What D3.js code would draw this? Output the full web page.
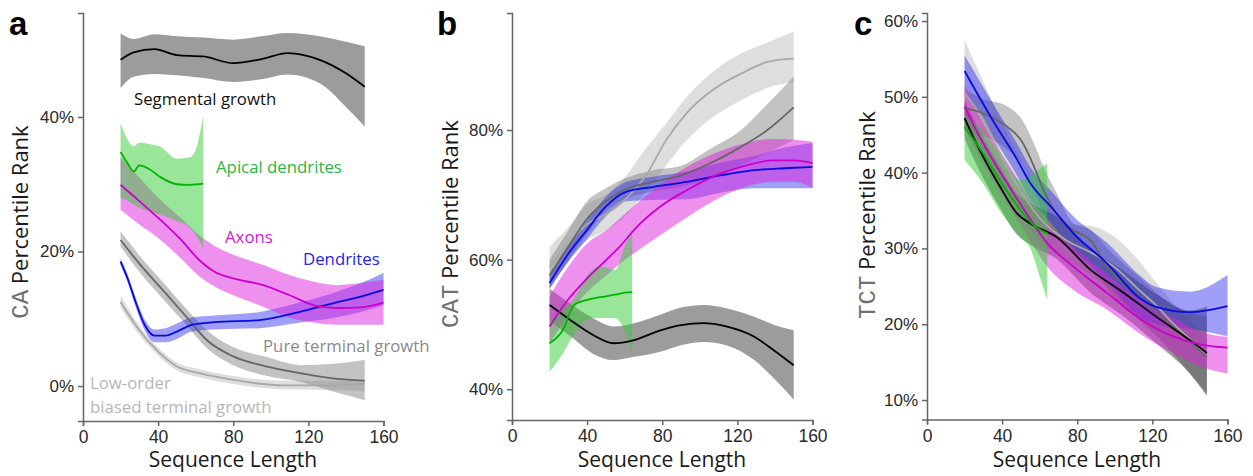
<!DOCTYPE html>
<html>
  <head>
    <meta charset="utf-8" />
    <script src="https://d3js.org/d3.v7.min.js"></script>
    <title>Percentile Rank vs Sequence Length</title>
    <style>
        body { margin: 0; background: #fff; }
        svg { font-family: "Open Sans", sans-serif; }
        .tick text { font-size: 17px; fill: #2a2a2a; }
        .domain, .tick line { stroke: #666; stroke-width: 1.5; }
    </style>
  </head>
  <body>

    <svg id="chart" width="1253" height="476"></svg>

    <script>
    // rows are [sequence length, mean %, lower band %, upper band %]
    var xTicks = [0, 40, 80, 120, 160];

    // panel a : CA
    var aTicks = [0, 20, 40];
    var aSegmental = [[20,48.5,44.3,52.4],[27,49.6,46.0,51.6],[38,50.1,46.4,52.3],[50,49.2,46.2,52.0],[64,49.0,45.8,51.8],[80,48.0,45.2,51.5],[95,48.6,45.6,52.0],[109,49.5,46.3,52.5],[126,48.5,45.0,52.0],[140,46.5,41.5,51.2],[150,44.5,38.6,50.5]];
    var aApical = [[20,34.8,28.0,39.1],[24,33.0,27.5,36.5],[27,31.9,27.0,35.6],[30,32.8,26.5,36.2],[35,32.3,26.0,36.0],[41,31.1,25.5,35.6],[50,30.0,24.5,33.8],[57,29.9,23.5,34.0],[61,30.0,22.0,36.0],[64,30.1,20.5,40.2]];
    var aAxons = [[20,29.9,26.2,34.0],[30,27.5,24.0,31.0],[40,25.0,22.0,28.0],[52,21.8,19.0,25.0],[62,18.7,16.3,22.4],[70,17.0,14.8,20.8],[80,16.0,13.5,19.5],[96,15.0,11.8,18.0],[110,13.5,10.2,16.5],[123,12.0,9.4,15.5],[135,11.6,9.1,15.0],[148,11.7,9.1,15.3],[160,12.4,9.1,15.8]];
    var aDendrites = [[20,18.5,18.0,19.0],[24,15.8,15.2,16.4],[28,12.5,11.8,13.2],[33,9.0,8.2,9.8],[38,7.5,6.5,8.4],[44,7.5,6.5,8.6],[50,8.1,7.0,9.3],[58,9.1,8.1,10.2],[70,9.5,8.4,10.5],[94,9.8,8.6,11.0],[115,11.0,9.4,12.4],[133,12.3,10.1,13.8],[148,13.3,11.0,15.3],[160,14.3,12.0,16.8]];
    var aPureTerminal = [[20,21.7,20.7,23.0],[30,18.2,17.0,19.4],[44,13.8,12.5,15.0],[55,10.3,9.1,11.5],[66,6.8,5.6,8.3],[80,4.4,3.1,5.8],[98,2.9,1.5,4.3],[116,1.9,0.6,3.1],[134,1.1,-0.9,3.3],[150,0.8,-2.1,3.9]];
    var aLowOrder = [[20,12.5,11.6,13.5],[30,8.3,7.6,9.0],[39,5.4,4.8,6.0],[50,2.9,2.3,3.5],[62,1.9,1.3,2.5],[80,0.9,0.3,1.5],[107,0.1,-0.5,0.8],[134,0.1,-0.6,0.8],[150,0.4,-0.8,0.9]];

    // panel b : CAT
    var bTicks = [40, 60, 80];
    var bSegmental = [[20,53.0,50.5,55.5],[31,50.7,48.2,53.2],[43,48.4,45.5,51.0],[54,47.1,44.5,49.7],[65,47.6,45.0,50.2],[79,49.1,45.8,51.5],[90,49.9,46.8,52.6],[102,50.2,47.3,53.0],[114,49.7,46.8,52.5],[129,48.1,44.5,51.2],[139,46.1,41.8,50.0],[150,43.7,38.4,49.1]];
    var bApical = [[20,47.1,42.7,50.5],[27,49.1,45.5,52.5],[33,53.0,48.5,54.0],[40,53.8,50.8,57.5],[47,54.2,51.0,59.0],[55,54.6,51.0,58.4],[60,54.9,49.0,62.0],[64,55.0,45.6,64.6]];
    var bAxons = [[20,49.7,47.0,54.3],[29,53.5,51.0,58.5],[40,57.1,55.0,62.5],[50,59.9,57.5,64.5],[58,62.2,59.5,66.5],[65,64.6,61.0,68.3],[79,68.2,63.8,71.5],[93,70.7,66.5,74.3],[107,72.8,69.0,76.3],[122,74.3,71.0,77.8],[139,75.3,72.0,78.6],[150,75.3,72.0,78.5],[160,74.9,71.0,78.2]];
    var bDendrites = [[20,56.4,55.5,57.5],[29,60.5,59.3,61.8],[40,64.6,63.2,66.0],[50,68.2,66.7,69.7],[61,70.5,69.0,72.0],[75,71.2,69.2,72.8],[93,72.0,69.3,73.6],[111,73.0,70.3,75.0],[129,73.8,71.0,76.0],[145,74.1,71.0,77.3],[160,74.3,71.0,78.0]];
    var bPureTerminal = [[20,57.6,55.5,60.0],[30,62.0,59.8,64.5],[40,66.3,64.0,69.0],[50,69.0,67.5,71.0],[60,70.8,69.3,72.5],[75,72.0,70.5,73.8],[90,73.0,71.2,74.5],[105,74.8,72.5,77.0],[122,77.4,74.6,80.0],[136,80.0,76.5,84.0],[150,83.5,78.4,88.2]];
    var bLowOrder = [[20,58.9,55.5,62.0],[30,62.5,60.0,65.0],[40,65.5,63.0,68.5],[50,67.0,64.5,70.0],[58,68.7,66.1,72.0],[72,73.3,70.8,77.4],[82,78.4,74.5,81.0],[93,82.6,78.4,85.1],[107,86.2,82.0,89.0],[122,88.7,84.6,91.8],[136,90.5,86.5,93.5],[150,91.0,87.4,95.2]];

    // panel c : TCT
    var cTicks = [10, 20, 30, 40, 50, 60];
    var cSegmental = [[20,47.2,44.5,49.5],[28,43.0,40.2,45.5],[39,38.1,35.3,40.8],[48,34.6,31.8,37.2],[55,33.3,30.5,36.0],[69,31.5,28.6,34.2],[87,27.2,24.2,30.0],[105,24.1,21.0,27.0],[122,21.0,17.5,24.0],[140,17.9,13.5,21.8],[149,16.2,10.7,22.3]];
    var cApical = [[20,46.0,41.7,47.5],[30,42.5,38.5,45.5],[40,38.5,34.5,42.0],[50,35.0,31.5,39.0],[55,33.5,30.0,39.5],[60,32.5,26.3,40.5],[64,32.0,23.2,41.2]];
    var cAxons = [[20,48.7,46.0,51.5],[27,45.2,42.6,47.8],[35,41.7,39.0,44.3],[44,38.1,35.4,40.8],[53,34.6,31.8,37.2],[64,30.7,27.6,33.3],[78,27.6,24.5,30.2],[96,24.1,21.9,26.6],[113,20.8,18.8,23.3],[131,18.4,16.2,20.9],[146,17.3,14.4,19.0],[160,16.9,13.5,18.3]];
    var cDendrites = [[20,53.4,51.0,55.5],[35,46.9,44.8,49.2],[48,41.7,39.6,43.8],[55,38.6,36.5,40.7],[66,35.5,33.4,37.6],[78,32.0,29.8,34.2],[96,28.0,25.5,30.7],[113,23.5,21.0,26.5],[122,22.3,20.0,24.9],[140,21.6,19.4,24.3],[160,22.4,18.4,26.5]];
    var cPureTerminal = [[20,48.5,45.5,51.0],[29,47.9,45.0,49.8],[43,46.0,43.0,48.7],[50,44.3,41.3,47.2],[57,40.8,37.8,43.8],[62,37.7,34.7,40.8],[69,34.6,31.6,37.3],[78,32.4,29.4,33.3],[87,31.1,28.0,32.5],[96,27.6,24.6,30.0],[113,23.6,20.6,26.2],[131,19.7,16.2,22.5],[149,15.7,10.5,21.0]];
    var cLowOrder = [[20,50.5,46.0,57.5],[30,47.0,43.0,52.0],[42,41.0,37.5,45.5],[60,34.0,31.0,37.5],[74,31.1,28.5,33.3],[87,29.5,26.5,33.0],[100,27.5,24.0,31.5],[113,24.5,20.5,28.3],[122,22.5,18.5,25.5],[131,20.1,16.0,22.8],[140,18.0,13.5,20.5],[149,15.7,11.0,18.0]];

    var svg = d3.select("#chart");

    // styles for each group (band fill, band opacity, line colour)
    var styles = {
        lowOrder:     { band: "#b5b5b5", op: 0.45, line: "#a8a8a8" },
        pureTerminal: { band: "#7a7a7a", op: 0.45, line: "#666666" },
        segmental:    { band: "#4a4a4a", op: 0.55, line: "#000000" },
        dendrites:    { band: "#2a2aee", op: 0.45, line: "#0a0ae0" },
        axons:        { band: "#dd22dd", op: 0.5,  line: "#cc00cc" },
        apical:       { band: "#33cc33", op: 0.5,  line: "#00b400" }
    };

    function drawPanel(cfg){
        var x = d3.scaleLinear().domain([0, 160]).range([cfg.x0, cfg.x0 + 300.5]);
        var y = d3.scaleLinear().domain(cfg.yDomain).range([cfg.yBottom, 13]);
        var g = svg.append("g");

        var area = d3.area()
            .x(function(d){ return x(d[0]); })
            .y0(function(d){ return y(d[2]); })
            .y1(function(d){ return y(d[3]); })
            .curve(d3.curveMonotoneX);
        var line = d3.line()
            .x(function(d){ return x(d[0]); })
            .y(function(d){ return y(d[1]); })
            .curve(d3.curveMonotoneX);

        g.selectAll("path.band").data(cfg.series).enter().append("path")
            .attr("class", "band")
            .attr("d", function(s){ return area(s.data); })
            .attr("fill", function(s){ return styles[s.key].band; })
            .attr("fill-opacity", function(s){ return styles[s.key].op; });

        g.selectAll("path.mean").data(cfg.series).enter().append("path")
            .attr("class", "mean")
            .attr("d", function(s){ return line(s.data); })
            .attr("fill", "none")
            .attr("stroke", function(s){ return styles[s.key].line; })
            .attr("stroke-width", 1.8);

        // axes
        g.append("g")
            .attr("transform", "translate(0," + cfg.yBottom + ")")
            .call(d3.axisBottom(x).tickValues(xTicks).tickSize(5).tickPadding(5))
            .call(function(a){ a.selectAll("text").style("font-size", "17.5px"); });
        g.append("g")
            .attr("transform", "translate(" + cfg.x0 + ",0)")
            .call(d3.axisLeft(y).tickValues(cfg.yTicks).tickSize(5).tickPadding(4)
                .tickFormat(function(d){ return d + "%"; }));
        g.selectAll(".domain").attr("fill", "none");

        // axis titles
        g.append("text")
            .attr("x", cfg.x0 + 150).attr("y", 467)
            .attr("text-anchor", "middle")
            .style("font-size", "21px").style("fill", "#1a1a1a")
            .text("Sequence Length");

        var yt = g.append("text")
            .attr("transform", "translate(" + cfg.titleX + "," + cfg.titleY + ") rotate(-90)")
            .attr("text-anchor", "middle")
            .style("font-size", "22px").style("fill", "#1a1a1a");
        yt.append("tspan")
            .style("font-family", "'Liberation Mono', 'DejaVu Sans Mono', monospace")
            .style("font-size", "24px")
            .style("fill", "#707070")
            .text(cfg.metric);
        yt.append("tspan").text(" Percentile Rank");

        svg.append("text")
            .attr("x", cfg.letterX).attr("y", 35)
            .style("font-family", "'Liberation Sans', Arial, sans-serif")
            .style("font-weight", "bold").style("font-size", "33px")
            .text(cfg.letter);

        return g;
    }

    var gA = drawPanel({
        x0: 83, yBottom: 421, yDomain: [-5.2, 55.46], yTicks: aTicks,
        metric: "CA", titleX: 28, titleY: 222, letter: "a", letterX: 9,
        series: [
            { key: "lowOrder", data: aLowOrder },
            { key: "pureTerminal", data: aPureTerminal },
            { key: "segmental", data: aSegmental },
            { key: "dendrites", data: aDendrites },
            { key: "axons", data: aAxons },
            { key: "apical", data: aApical }
        ]
    });

    drawPanel({
        x0: 512, yBottom: 420, yDomain: [35.26, 98.05], yTicks: bTicks,
        metric: "CAT", titleX: 458, titleY: 224, letter: "b", letterX: 437,
        series: [
            { key: "lowOrder", data: bLowOrder },
            { key: "pureTerminal", data: bPureTerminal },
            { key: "segmental", data: bSegmental },
            { key: "dendrites", data: bDendrites },
            { key: "axons", data: bAxons },
            { key: "apical", data: bApical }
        ]
    });

    drawPanel({
        x0: 927, yBottom: 419.5, yDomain: [7.43, 61.06], yTicks: cTicks,
        metric: "TCT", titleX: 875, titleY: 215, letter: "c", letterX: 854,
        series: [
            { key: "lowOrder", data: cLowOrder },
            { key: "pureTerminal", data: cPureTerminal },
            { key: "segmental", data: cSegmental },
            { key: "dendrites", data: cDendrites },
            { key: "axons", data: cAxons },
            { key: "apical", data: cApical }
        ]
    });

    // in-plot labels of panel a
    var labels = [
        { text: "Segmental growth", x: 134, y: 105, color: "#111111" },
        { text: "Apical dendrites", x: 216, y: 173, color: "#2bb541" },
        { text: "Axons", x: 225, y: 243, color: "#cf1ccf" },
        { text: "Dendrites", x: 303, y: 265, color: "#2424e8" },
        { text: "Pure terminal growth", x: 263, y: 352, color: "#8a8a8a" },
        { text: "Low-order", x: 90, y: 389, color: "#b6b6b6" },
        { text: "biased terminal growth", x: 90, y: 413, color: "#b6b6b6" }
    ];
    gA.selectAll("text.lbl").data(labels).enter().append("text")
        .attr("class", "lbl")
        .attr("x", function(d){ return d.x; })
        .attr("y", function(d){ return d.y; })
        .style("font-size", "16.8px")
        .style("fill", function(d){ return d.color; })
        .text(function(d){ return d.text; });
    </script>

  </body>
</html>
